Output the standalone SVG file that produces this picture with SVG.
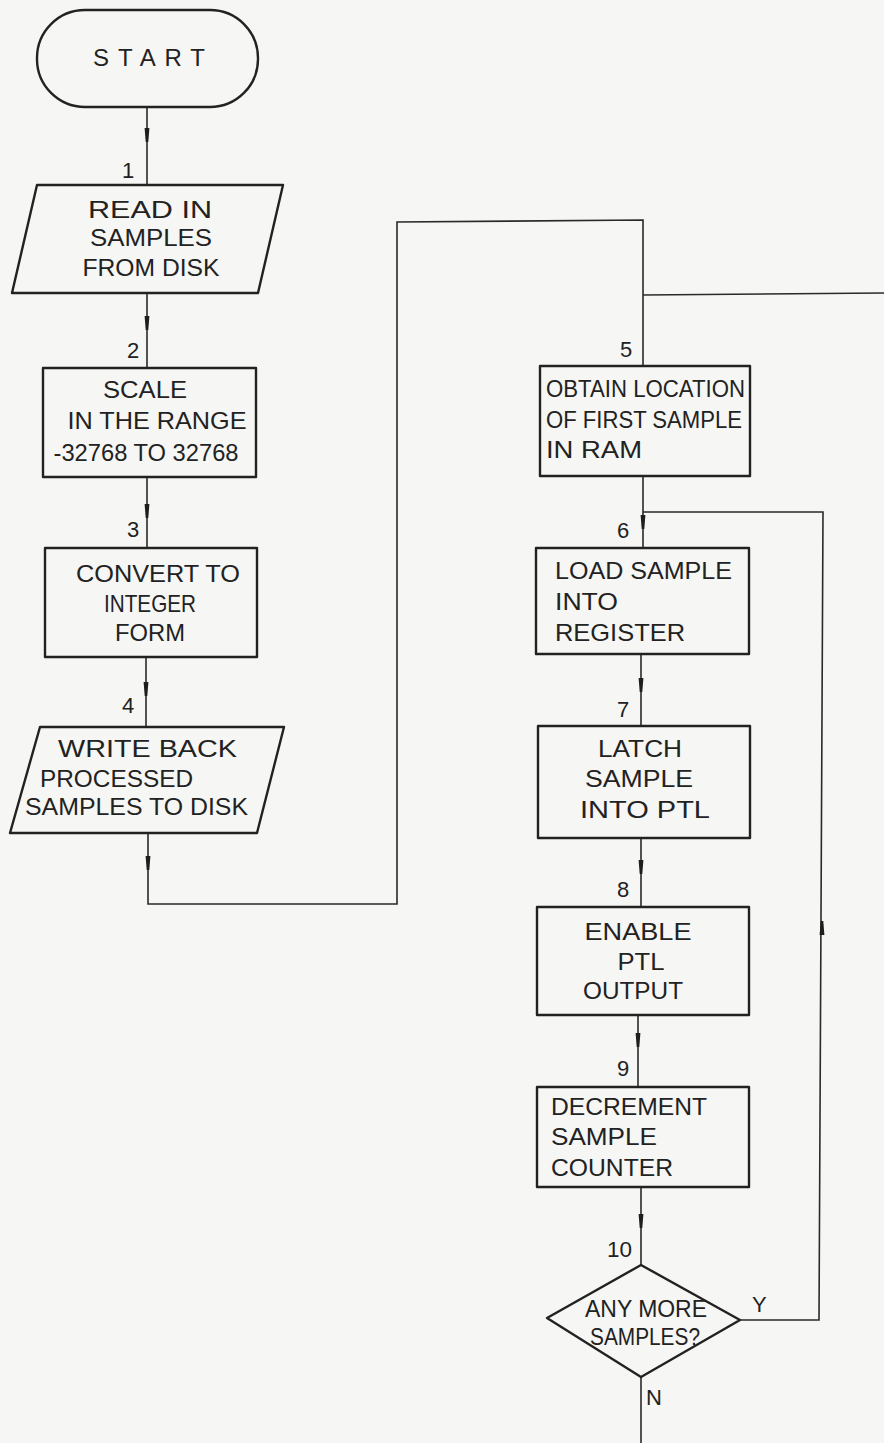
<svg xmlns="http://www.w3.org/2000/svg" width="884" height="1443" viewBox="0 0 884 1443">
<style>
.bg{fill:#f6f6f4}
.box{fill:none;stroke:#222;stroke-width:2.4;stroke-linejoin:round}
.ln{fill:none;stroke:#2a2a2a;stroke-width:1.6}
.t{font-family:"Liberation Sans",Arial,sans-serif;font-size:24px;fill:#222}
.n{font-family:"Liberation Sans",Arial,sans-serif;font-size:22px;fill:#222}
.ah{fill:#1e1e1e}
</style>
<defs>
<path id="ad" d="M-2.4,-8 L2.4,-8 L1.3,6 L-1.3,6 Z"/>
</defs>
<rect class="bg" x="0" y="0" width="884" height="1443"/>

<g id="connectors">
<path class="ln" d="M147,107 V185"/>
<path class="ln" d="M147,293 V368"/>
<path class="ln" d="M147,477 V548"/>
<path class="ln" d="M146,657 V727"/>
<path class="ln" d="M148,833 V904 H397 V222 L643,220 V366"/>
<path class="ln" d="M643,295 L884,293"/>
<path class="ln" d="M643,476 V548"/>
<path class="ln" d="M643,512 H823 L819,1320 H740"/>
<path class="ln" d="M641,654 V726"/>
<path class="ln" d="M641,838 V907"/>
<path class="ln" d="M638,1015 V1087"/>
<path class="ln" d="M641,1187 V1265"/>
<path class="ln" d="M641,1377 V1443"/>
<g class="ah">
<use href="#ad" transform="translate(147,136)"/>
<use href="#ad" transform="translate(147,324)"/>
<use href="#ad" transform="translate(147,512)"/>
<use href="#ad" transform="translate(146,690)"/>
<use href="#ad" transform="translate(148,864)"/>
<use href="#ad" transform="translate(643,523)"/>
<use href="#ad" transform="translate(641,686)"/>
<use href="#ad" transform="translate(641,868)"/>
<use href="#ad" transform="translate(638,1041)"/>
<use href="#ad" transform="translate(641,1222)"/>
<use href="#ad" transform="translate(822,927) rotate(180)"/>
</g>
<text class="n" x="752" y="1312">Y</text>
<text class="n" x="646" y="1405">N</text>
</g>

<g id="start">
<rect class="box" x="37" y="10" width="221" height="97" rx="48" ry="48"/>
<text class="t" x="149" y="66" text-anchor="middle" textLength="112" lengthAdjust="spacing">START</text>
</g>

<g id="node1">
<text class="n" x="122" y="178">1</text>
<path class="box" d="M37,185 L283,185 L258,293 L12,293 Z"/>
<text class="t" x="150" y="218" text-anchor="middle" textLength="124" lengthAdjust="spacingAndGlyphs">READ IN</text>
<text class="t" x="151" y="246" text-anchor="middle" textLength="122" lengthAdjust="spacingAndGlyphs">SAMPLES</text>
<text class="t" x="151" y="276" text-anchor="middle" textLength="137" lengthAdjust="spacingAndGlyphs">FROM DISK</text>
</g>

<g id="node2">
<text class="n" x="127" y="358">2</text>
<rect class="box" x="43" y="368" width="213" height="109"/>
<text class="t" x="145" y="398" text-anchor="middle" textLength="84" lengthAdjust="spacingAndGlyphs">SCALE</text>
<text class="t" x="157" y="429" text-anchor="middle" textLength="179" lengthAdjust="spacingAndGlyphs">IN THE RANGE</text>
<text class="t" x="146" y="461" text-anchor="middle" textLength="185" lengthAdjust="spacingAndGlyphs">-32768  TO 32768</text>
</g>

<g id="node3">
<text class="n" x="127" y="537">3</text>
<rect class="box" x="45" y="548" width="212" height="109"/>
<text class="t" x="158" y="582" text-anchor="middle" textLength="164" lengthAdjust="spacingAndGlyphs">CONVERT TO</text>
<text class="t" x="150" y="612" text-anchor="middle" textLength="92" lengthAdjust="spacingAndGlyphs">INTEGER</text>
<text class="t" x="150" y="641" text-anchor="middle" textLength="70" lengthAdjust="spacingAndGlyphs">FORM</text>
</g>

<g id="node4">
<text class="n" x="122" y="713">4</text>
<path class="box" d="M40,727 L284,727 L257,833 L10,833 Z"/>
<text class="t" x="58" y="757" textLength="179" lengthAdjust="spacingAndGlyphs">WRITE  BACK</text>
<text class="t" x="40" y="787" textLength="153" lengthAdjust="spacingAndGlyphs">PROCESSED</text>
<text class="t" x="25" y="815" textLength="223" lengthAdjust="spacingAndGlyphs">SAMPLES TO DISK</text>
</g>

<g id="node5">
<text class="n" x="620" y="357">5</text>
<rect class="box" x="540" y="366" width="210" height="110"/>
<text class="t" x="546" y="397" textLength="199" lengthAdjust="spacingAndGlyphs">OBTAIN LOCATION</text>
<text class="t" x="546" y="428" textLength="196" lengthAdjust="spacingAndGlyphs">OF FIRST SAMPLE</text>
<text class="t" x="546" y="458" textLength="96" lengthAdjust="spacingAndGlyphs">IN RAM</text>
</g>

<g id="node6">
<text class="n" x="617" y="538">6</text>
<rect class="box" x="536" y="548" width="213" height="106"/>
<text class="t" x="555" y="579" textLength="177" lengthAdjust="spacingAndGlyphs">LOAD SAMPLE</text>
<text class="t" x="555" y="610" textLength="63" lengthAdjust="spacingAndGlyphs">INTO</text>
<text class="t" x="555" y="641" textLength="130" lengthAdjust="spacingAndGlyphs">REGISTER</text>
</g>

<g id="node7">
<text class="n" x="617" y="717">7</text>
<rect class="box" x="538" y="726" width="212" height="112"/>
<text class="t" x="640" y="757" text-anchor="middle" textLength="84" lengthAdjust="spacingAndGlyphs">LATCH</text>
<text class="t" x="639" y="787" text-anchor="middle" textLength="108" lengthAdjust="spacingAndGlyphs">SAMPLE</text>
<text class="t" x="645" y="818" text-anchor="middle" textLength="130" lengthAdjust="spacingAndGlyphs">INTO  PTL</text>
</g>

<g id="node8">
<text class="n" x="617" y="897">8</text>
<rect class="box" x="537" y="907" width="212" height="108"/>
<text class="t" x="638" y="940" text-anchor="middle" textLength="107" lengthAdjust="spacingAndGlyphs">ENABLE</text>
<text class="t" x="641" y="970" text-anchor="middle" textLength="47" lengthAdjust="spacingAndGlyphs">PTL</text>
<text class="t" x="633" y="999" text-anchor="middle" textLength="100" lengthAdjust="spacingAndGlyphs">OUTPUT</text>
</g>

<g id="node9">
<text class="n" x="617" y="1076">9</text>
<rect class="box" x="537" y="1087" width="212" height="100"/>
<text class="t" x="551" y="1115" textLength="156" lengthAdjust="spacingAndGlyphs">DECREMENT</text>
<text class="t" x="551" y="1145" textLength="106" lengthAdjust="spacingAndGlyphs">SAMPLE</text>
<text class="t" x="551" y="1176" textLength="122" lengthAdjust="spacingAndGlyphs">COUNTER</text>
</g>

<g id="node10">
<text class="n" x="607" y="1257" textLength="25" lengthAdjust="spacingAndGlyphs">10</text>
<path class="box" d="M641,1265 L740,1320 L641,1377 L547,1318 Z"/>
<text class="t" x="646" y="1317" text-anchor="middle" textLength="122" lengthAdjust="spacingAndGlyphs">ANY MORE</text>
<text class="t" x="645" y="1345" text-anchor="middle" textLength="110" lengthAdjust="spacingAndGlyphs">SAMPLES?</text>
</g>
</svg>
